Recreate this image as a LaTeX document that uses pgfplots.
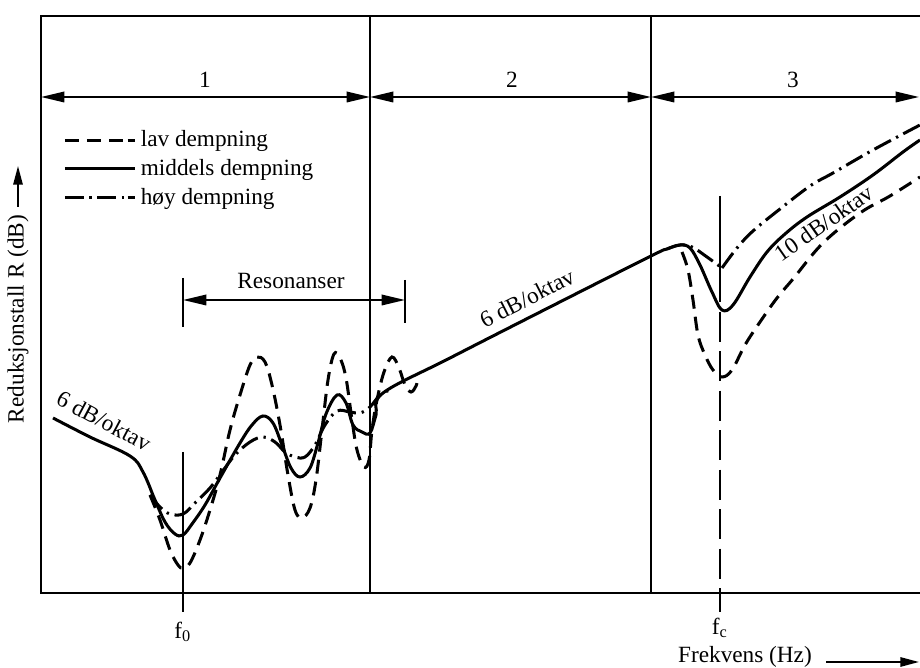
\documentclass[border=0pt]{standalone}
\usepackage{fontspec}
\setmainfont{Liberation Serif}
\usepackage{pgfplots}
\pgfplotsset{compat=1.18}
\usetikzlibrary{arrows.meta}
\begin{document}
\begin{tikzpicture}[font=\fontsize{10}{12}\selectfont,
  arr/.style={line width=0.8pt,{Triangle[length=10pt,width=4.5pt]}-{Triangle[length=10pt,width=4.5pt]}}]
\begin{axis}[
  scale only axis, width=377.97pt, height=248.11pt,
  xmin=41, xmax=920, ymin=16, ymax=593, y dir=reverse,
  hide axis, clip=false,
  legend cell align=left,
  legend style={draw=none, fill=none, at={(0.017,0.819)}, anchor=north west, row sep=0pt},
  legend image code/.code={\draw[#1] (0pt,0pt) -- (27pt,0pt); \path (27pt,0pt) -- (30pt,0pt);},
  every axis plot/.append style={line width=1.3pt, black},
  lav/.style={dash pattern=on 6pt off 3.5pt},
  hoy/.style={dash pattern=on 8pt off 2.5pt on 1pt off 2.5pt},
]
% frame
\addplot[line width=0.9pt, forget plot] coordinates {(920,16) (41,16) (41,593) (920,593)};
\addplot[line width=0.8pt, forget plot] coordinates {(370,16) (370,593)};
\addplot[line width=0.8pt, forget plot] coordinates {(651,16) (651,593)};
% legend images
\addlegendimage{lav}\addlegendentry{lav dempning}
\addlegendimage{}\addlegendentry{middels dempning}
\addlegendimage{hoy}\addlegendentry{høy dempning}
% lav dempning
\addplot[lav, smooth, tension=0.6, forget plot] coordinates {
(150,495) (160,520) (170,550) (178,565) (183,568) (190,563) (200,540) (210,510) (220,475)
(230,430) (240,395) (250,365) (257,357) (265,362) (272,385) (280,425) (288,475) (295,510)
(302,518) (310,508) (316,480) (322,430) (328,380) (334,354) (340,358) (346,378) (352,420)
(357,450) (364,467) (369,460) (372,430) (377,400) (384,372) (392,357) (399,368) (405,385)
(411,392) (416,386) (418,378)};
\addplot[lav, smooth, tension=0.6, forget plot] coordinates {
(682,252) (688,270) (693,300) (698,335) (705,355) (713,370) (722,377) (732,370) (745,345)
(760,322) (777,298) (793,279) (823,243) (860,213) (890,196) (920,177)};
% middels dempning
\addplot[smooth, tension=0.6, forget plot] coordinates {
(53,418) (90,437) (130,456) (143,472) (155,500) (165,522) (175,534) (183,535) (192,524)
(205,505) (220,478) (240,443) (252,425) (263,416) (273,423) (282,445) (291,468) (300,477)
(310,468) (318,443) (326,414) (337,395) (346,403) (353,425) (362,432) (370,433) (376,415)
(383,393) (450,358) (550,307) (651,256) (667,249) (680,245) (690,248) (700,265) (712,292)
(722,310) (733,305) (750,277) (767,252) (785,234) (807,217) (840,197) (873,175) (903,152) (920,140)};
% hoy dempning
\addplot[hoy, smooth, tension=0.6, forget plot] coordinates {
(150,495) (160,507) (170,514) (183,514) (195,503) (210,488) (222,472) (235,455) (250,442)
(263,437) (275,442) (285,452) (295,457) (305,457) (315,445) (325,425) (337,411) (350,412)
(360,413) (370,407) (380,395) (390,390)};
\addplot[hoy, smooth, tension=0.6, forget plot] coordinates {
(667,249) (680,245) (692,247) (707,257) (722,268)};
\addplot[hoy, smooth, tension=0.6, forget plot] coordinates {
(722,268) (737,248) (753,231) (780,209) (810,186) (833,173) (873,150) (920,125)};
% f0 and fc markers
\addplot[line width=0.8pt, forget plot] coordinates {(183,452) (183,612)};
\addplot[line width=0.8pt, forget plot] coordinates {(720,196) (720,272)};
\addplot[line width=0.8pt, dash pattern=on 13pt off 4pt, forget plot] coordinates {(720,272) (720,612)};
% region arrows
\draw[arr] (axis cs:41,97) -- (axis cs:370,97);
\draw[arr] (axis cs:370,97) -- (axis cs:651,97);
\draw[arr] (axis cs:651,97) -- (axis cs:919,97);
\node at (axis cs:205,80) {1};
\node at (axis cs:512,80) {2};
\node at (axis cs:793,80) {3};
% resonanser
\draw[line width=0.8pt] (axis cs:183,278) -- (axis cs:183,327);
\draw[line width=0.8pt] (axis cs:405,280) -- (axis cs:405,323);
\draw[arr] (axis cs:183,300) -- (axis cs:405,300);
\node at (axis cs:291,281) {Resonanser};
% slope labels
\node[rotate=-28] at (axis cs:104,421) {6 dB/oktav};
\node[rotate=27] at (axis cs:527,298) {6 dB/oktav};
\node[rotate=35, inner sep=0pt] at (axis cs:824,223) {10 dB/oktav};
% tick labels
\node at (axis cs:183,632) {f\textsubscript{0}};
\node at (axis cs:720,628) {f\textsubscript{c}};
% axis labels
\node[rotate=90] at (axis cs:18,319) {Reduksjonstall R (dB)};
\draw[line width=0.8pt,-{Triangle[length=8pt,width=4pt]}] (axis cs:18,207) -- (axis cs:18,166);
\node at (axis cs:745,657) {Frekvens (Hz)};
\draw[line width=0.8pt,-{Triangle[length=8pt,width=4pt]}] (axis cs:826,662) -- (axis cs:919,662);
\coordinate (bl) at (axis cs:0,668);
\coordinate (tr) at (axis cs:920,0);
\end{axis}
\pgfresetboundingbox
\path[use as bounding box] (bl) rectangle (tr);
\end{tikzpicture}
\end{document}
